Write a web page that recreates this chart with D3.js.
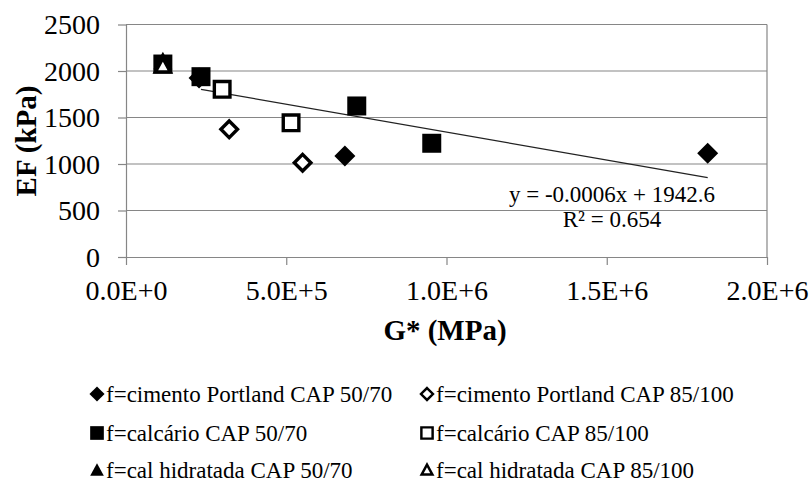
<!DOCTYPE html>
<html>
<head>
<meta charset="utf-8">
<script src="https://cdn.jsdelivr.net/npm/d3@7"></script>
<style>
  body { margin: 0; background: #fff; }
  text { font-family: "Liberation Serif", "Times New Roman", serif; fill: #000; }
</style>
</head>
<body>
<div id="chart"></div>
<script>
const width = 811, height = 484;
const margin = { top: 24.5, left: 126, right: 44, bottom: 227 };

// series, drawn in this order (later ones on top)
const seriesNames = [
  "f=cimento Portland CAP 50/70", "f=cimento Portland CAP 85/100",
  "f=calcário CAP 50/70", "f=calcário CAP 85/100",
  "f=cal hidratada CAP 50/70", "f=cal hidratada CAP 85/100"
];
const seriesShapes = ["diamond", "diamond", "square", "square", "triangle", "triangle"];
const seriesFilled = [true, false, true, false, true, false];

const cimento5070G = [228000, 683000, 1815000];
const cimento5070EF = [1925, 1086, 1115];
const cimento85100G = [322000, 551000];
const cimento85100EF = [1373, 1014];
const calcario5070G = [115000, 234000, 720000, 954000];
const calcario5070EF = [2075, 1939, 1624, 1223];
const calcario85100G = [300000, 515000];
const calcario85100EF = [1803, 1443];
const cal5070G = [115000];
const cal5070EF = [2105];
const cal85100G = [115000];
const cal85100EF = [2058];

const seriesG = [cimento5070G, cimento85100G, calcario5070G, calcario85100G, cal5070G, cal85100G];
const seriesEF = [cimento5070EF, cimento85100EF, calcario5070EF, calcario85100EF, cal5070EF, cal85100EF];

const xTicks = [0, 500000, 1000000, 1500000, 2000000];
const xTickLabels = ["0.0E+0", "5.0E+5", "1.0E+6", "1.5E+6", "2.0E+6"];
const yTicks = [0, 500, 1000, 1500, 2000, 2500];

// linear trendline shown on the chart
const trendSlope = -0.0006, trendIntercept = 1942.6;
const trendFrom = 234000, trendTo = 1815000;
const trendLabels = ["y = -0.0006x + 1942.6", "R² = 0.654"];

const gray = "#868686";

const svg = d3.select("#chart").append("svg")
  .attr("width", width).attr("height", height);
svg.append("rect").attr("width", width).attr("height", height).attr("fill", "#fff");

const x = d3.scaleLinear().domain([0, 2000000]).range([margin.left, width - margin.right]);
const y = d3.scaleLinear().domain([0, 2500]).range([height - margin.bottom, margin.top]);

// gridlines
svg.append("g").selectAll("line").data(yTicks.slice(1)).join("line")
  .attr("x1", x(0)).attr("x2", x(2000000))
  .attr("y1", d => y(d)).attr("y2", d => y(d))
  .attr("stroke", gray).attr("stroke-width", 1.2);

// right border of plot area
svg.append("line")
  .attr("x1", x(2000000)).attr("x2", x(2000000))
  .attr("y1", y(2500)).attr("y2", y(0))
  .attr("stroke", gray).attr("stroke-width", 1.2);

// x axis
const gx = svg.append("g")
  .attr("transform", `translate(0,${y(0)})`)
  .call(d3.axisBottom(x).tickValues(xTicks).tickSize(8).tickSizeOuter(0)
    .tickFormat((d, i) => xTickLabels[i]));
gx.select(".domain").attr("stroke", gray).attr("stroke-width", 1.2);
gx.selectAll(".tick line").attr("stroke", gray).attr("stroke-width", 1.2);
gx.selectAll(".tick text")
  .attr("y", 43).attr("dy", null)
  .style("font-size", "28px").style("font-family", "'Liberation Serif', serif").attr("fill", "#000");

// y axis
const gy = svg.append("g")
  .attr("transform", `translate(${x(0)},0)`)
  .call(d3.axisLeft(y).tickValues(yTicks).tickSize(8).tickSizeOuter(0).tickFormat(d3.format("d")));
gy.select(".domain").attr("stroke", gray).attr("stroke-width", 1.2);
gy.selectAll(".tick line").attr("stroke", gray).attr("stroke-width", 1.2);
gy.selectAll(".tick text")
  .attr("x", -26).attr("dy", "0.33em")
  .style("font-size", "28px").style("font-family", "'Liberation Serif', serif").attr("fill", "#000");

// axis titles
svg.append("text")
  .attr("x", 445).attr("y", 340)
  .attr("text-anchor", "middle")
  .style("font-size", "29px").style("font-weight", "bold")
  .text("G* (MPa)");
svg.append("text")
  .attr("transform", "translate(36,141) rotate(-90)")
  .attr("text-anchor", "middle")
  .style("font-size", "29px").style("font-weight", "bold")
  .text("EF (kPa)");

// trendline
svg.append("line")
  .attr("x1", x(trendFrom)).attr("y1", y(trendSlope * trendFrom + trendIntercept))
  .attr("x2", x(trendTo)).attr("y2", y(trendSlope * trendTo + trendIntercept))
  .attr("stroke", "#222").attr("stroke-width", 1.2);

svg.append("g").selectAll("text").data(trendLabels).join("text")
  .attr("x", 612).attr("y", (d, i) => 202 + i * 25)
  .attr("text-anchor", "middle")
  .style("font-size", "23px")
  .text(d => d);

// marker shapes
let markerPath = (shape, filled, k) => {
  let s;
  if (shape === "square") {
    s = (filled ? 9.5 : 7.8) * k;
    return `M${-s},${-s}H${s}V${s}H${-s}Z`;
  }
  if (shape === "diamond") {
    s = (filled ? 10.5 : 8.3) * k;
    return `M0,${-s}L${s},0L0,${s}L${-s},0Z`;
  }
  s = (filled ? 9.5 : 7.5) * k;
  return `M0,${-s}L${s},${s * 0.85}L${-s},${s * 0.85}Z`;
};

let drawMarker = (g, shape, filled, k) => {
  g.append("path")
    .attr("d", markerPath(shape, filled, k))
    .attr("fill", filled ? "#000" : "#fff")
    .attr("stroke", "#000")
    .attr("stroke-width", filled ? 0 : 3.4 * k)
    .attr("stroke-linejoin", "miter");
};

// points
seriesNames.forEach((name, si) => {
  const pts = seriesG[si].map((g, i) => ({ g: g, ef: seriesEF[si][i] }));
  const gs = svg.append("g").attr("class", "series");
  gs.selectAll("g").data(pts).join("g")
    .attr("transform", d => `translate(${x(d.g)},${y(d.ef)})`)
    .each(function () { drawMarker(d3.select(this), seriesShapes[si], seriesFilled[si], 1); });
});

// legend
const legendCols = [97, 427];
const legendRows = [402, 441, 478];
const legend = svg.append("g").selectAll("g").data(seriesNames).join("g")
  .attr("transform", (d, i) => `translate(${legendCols[i % 2]},${legendRows[Math.floor(i / 2)]})`);
legend.each(function (d, i) {
  const g = d3.select(this);
  const m = g.append("g").attr("transform", "translate(0,-8)");
  drawMarker(m, seriesShapes[i], seriesFilled[i], 0.72);
  g.append("text").attr("x", 9).attr("y", 0)
    .style("font-size", "23px")
    .text(d);
});
</script>
</body>
</html>
